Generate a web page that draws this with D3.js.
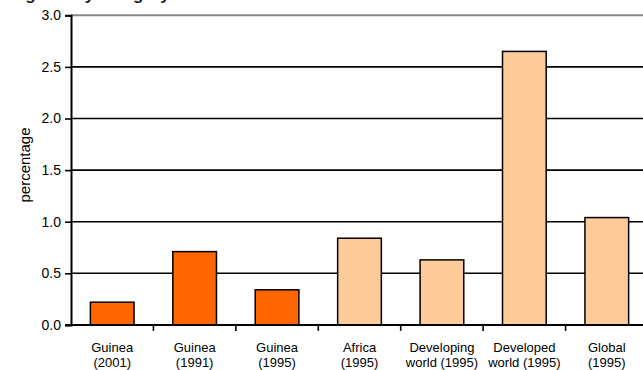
<!DOCTYPE html>
<html>
<head>
<meta charset="utf-8">
<script src="https://cdn.jsdelivr.net/npm/d3@7"></script>
<style>
    body { margin:0; background:#fff; }
    svg { display:block; font-family:'Liberation Sans', Arial, sans-serif; }
</style>
</head>
<body>
<svg id="chart" width="643" height="370"></svg>
<script>
    'use strict';

    var categories = [
        ['Guinea', '(2001)'],
        ['Guinea', '(1991)'],
        ['Guinea', '(1995)'],
        ['Africa', '(1995)'],
        ['Developing', 'world (1995)'],
        ['Developed', 'world (1995)'],
        ['Global', '(1995)']
    ];
    var values = [0.22, 0.71, 0.34, 0.84, 0.63, 2.65, 1.04];
    var local = [true, true, true, false, false, false, false];
    var yTicks = [0, 0.5, 1.0, 1.5, 2.0, 2.5, 3.0];

(function() {
    var svg = d3.select('#chart');
    var W = 643, H = 370;
    var mLeft = 71, mRight = 648, mTop = 15.3, mBottom = 324.9;
    var FONT = "'Liberation Sans', Arial, sans-serif";

    var x = d3.scaleBand()
        .domain(d3.range(categories.length))
        .range([mLeft, mRight])
        .paddingInner(0.47)
        .paddingOuter(0.235);

    var y = d3.scaleLinear().domain([0, 3]).range([mBottom, mTop]);

    // title, mostly cut off at the top edge
    svg.append('text')
        .attr('x', -4)
        .attr('y', 0)
        .style('font-size', '17px')
        .style('font-weight', 'bold')
        .attr('fill', '#222')
        .text('Drug use by category');

    // grid lines
    svg.append('g').selectAll('line')
        .data(yTicks.filter(function(d){ return d > 0 && d < 3; })).enter()
            .append('line')
                .attr('x1', mLeft).attr('x2', W)
                .attr('y1', function(d){ return y(d); })
                .attr('y2', function(d){ return y(d); })
                .attr('stroke', '#000')
                .attr('stroke-width', 1.6);

    // top border of plot area
    svg.append('line')
        .attr('x1', mLeft).attr('x2', W)
        .attr('y1', y(3)).attr('y2', y(3))
        .attr('stroke', '#888')
        .attr('stroke-width', 2);

    // bars
    svg.append('g').selectAll('rect')
        .data(values).enter()
            .append('rect')
                .attr('x', function(d,i){ return x(i); })
                .attr('y', function(d){ return y(d); })
                .attr('width', x.bandwidth())
                .attr('height', function(d){ return y(0) - y(d); })
                .attr('fill', function(d,i){ return local[i] ? '#FF6600' : '#FFCC99'; })
                .attr('stroke', '#000')
                .attr('stroke-width', 1.5);

    // y axis
    var yAxis = svg.append('g')
        .attr('transform', 'translate(' + mLeft + ',0)')
        .call(d3.axisLeft(y).tickValues(yTicks).tickFormat(d3.format('.1f')).tickSize(6).tickPadding(4));
    yAxis.select('.domain').attr('stroke-width', 2).attr('stroke', '#000');
    yAxis.selectAll('.tick line').attr('stroke-width', 1.6);
    yAxis.selectAll('.tick text')
        .style('font-size', '14px')
        .style('font-family', FONT)
        .attr('fill', '#000');

    // x axis
    var edges = d3.range(categories.length).map(function(i){ return x(i) - x.step() * x.paddingInner() / 2; });
    var xAxis = svg.append('g');
    xAxis.append('line')
        .attr('x1', mLeft - 6).attr('x2', W)
        .attr('y1', mBottom).attr('y2', mBottom)
        .attr('stroke', '#000').attr('stroke-width', 2);
    xAxis.selectAll('.xtick')
        .data(edges.slice(1)).enter()
            .append('line')
                .attr('x1', function(d){ return d; })
                .attr('x2', function(d){ return d; })
                .attr('y1', mBottom).attr('y2', mBottom + 6)
                .attr('stroke', '#000').attr('stroke-width', 1.6);

    var labels = svg.append('g').selectAll('text')
        .data(categories).enter()
            .append('text')
                .attr('text-anchor', 'middle')
                .attr('transform', function(d,i){ return 'translate(' + (x(i) + x.bandwidth() / 2) + ',352)'; })
                .style('font-size', '13px')
                .attr('fill', '#000');
    labels.append('tspan').attr('x', 0).attr('y', 0).text(function(d){ return d[0]; });
    labels.append('tspan').attr('x', 0).attr('y', 14.5).text(function(d){ return d[1]; });

    // y label
    svg.append('text')
        .attr('transform', 'translate(29.5,165) rotate(-90)')
        .attr('text-anchor', 'middle')
        .style('font-size', '15px')
        .attr('fill', '#000')
        .text('percentage');
})();
</script>
</body>
</html>
